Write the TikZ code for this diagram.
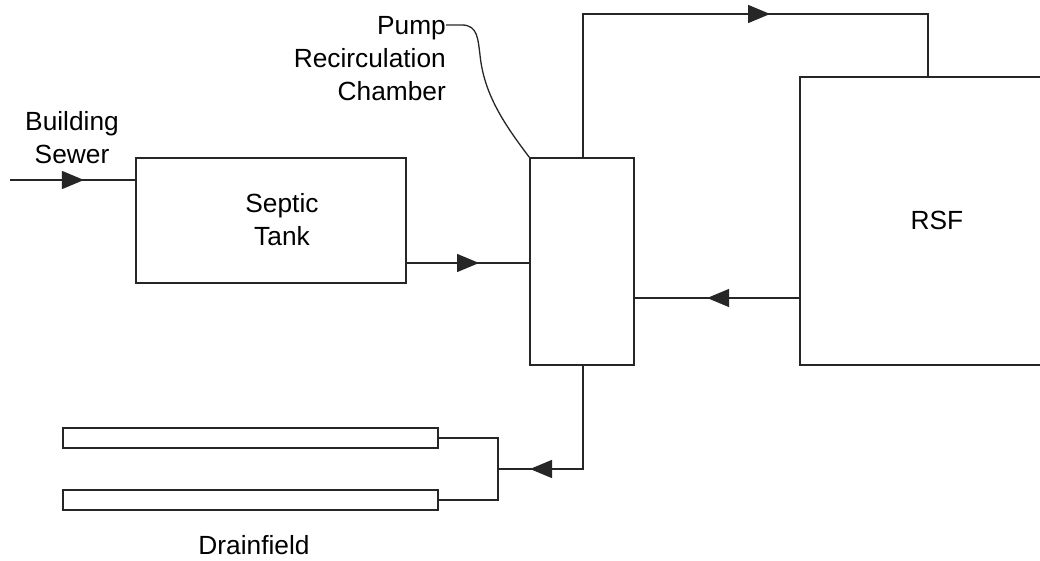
\documentclass[tikz,border=0pt]{standalone}
\usepackage{fontspec}
\setmainfont{Liberation Sans}
\usetikzlibrary{arrows.meta,decorations.markings}
\tikzset{
  box/.style={draw=black!85,line width=1.4pt,fill=white,inner sep=0pt},
  pipe/.style={box,minimum width=375pt,minimum height=20pt},
  flow/.style={draw=black!85,line width=1.4pt},
  midarrow/.style={postaction={decorate,decoration={markings,mark=at position #1 with {\arrow{Triangle[length=22pt,width=18pt]}}}}},
  lbl/.style={inner sep=0pt,align=center,font=\fontsize{26.3}{33}\selectfont},
}
\begin{document}
\begin{tikzpicture}[x=1pt,y=-1pt]
\useasboundingbox (0,0) rectangle (1040,561);
\clip (0,0) rectangle (1040,561);
% boxes
\node[box,minimum width=270pt,minimum height=125pt] (septic) at (271,220.5) {};
\node[lbl] (septiclbl) at (282,220) {Septic\\Tank};
\node[box,minimum width=104pt,minimum height=207pt] (pump) at (582,261.5) {};
\node[box,minimum width=280pt,minimum height=288pt] (rsf) at (940,221) {};
\node[lbl] (rsflbl) at (937,220) {RSF};
\node[pipe] (pipeA) at (250.5,438) {};
\node[pipe] (pipeB) at (250.5,500) {};
% labels
\node[lbl] (sewerlbl) at (72,138) {Building\\Sewer};
\node[lbl,align=right,anchor=east] (pumplbl) at (446,59) {Pump\\Recirculation\\Chamber};
\node[lbl] (drainlbl) at (254,545) {Drainfield};
% coordinates
\coordinate (sewerin) at (10,180);
\coordinate (topL) at (583,14);
\coordinate (topR) at (928,14);
\coordinate (split) at (498,469);
\coordinate (pumpout) at (583,469);
% connectors
\draw[flow,midarrow=0.59] (sewerin) -- (sewerin -| septic.west);
\draw[flow,midarrow=0.59] (septic.east |- 0,263) -- (pump.west |- 0,263);
\draw[flow,midarrow=0.6] (pump.north -| topL) -- (topL) -- (topR) -- (topR |- rsf.north);
\draw[flow,midarrow=0.56] (rsf.west |- 0,298) -- (pump.east |- 0,298);
\draw[flow,midarrow=0.83] (pump.south -| pumpout) -- (pumpout) -- (split);
\draw[flow] (pipeA.east) -| (split) |- (pipeB.east);
% callout
\draw[flow,line width=1.3pt] (pumplbl.north east |- 0,25) -- (462,25) .. controls (478,25) and (478,40) .. (480,55) .. controls (484,95) and (505,125) .. (pump.north west);
\end{tikzpicture}
\end{document}
